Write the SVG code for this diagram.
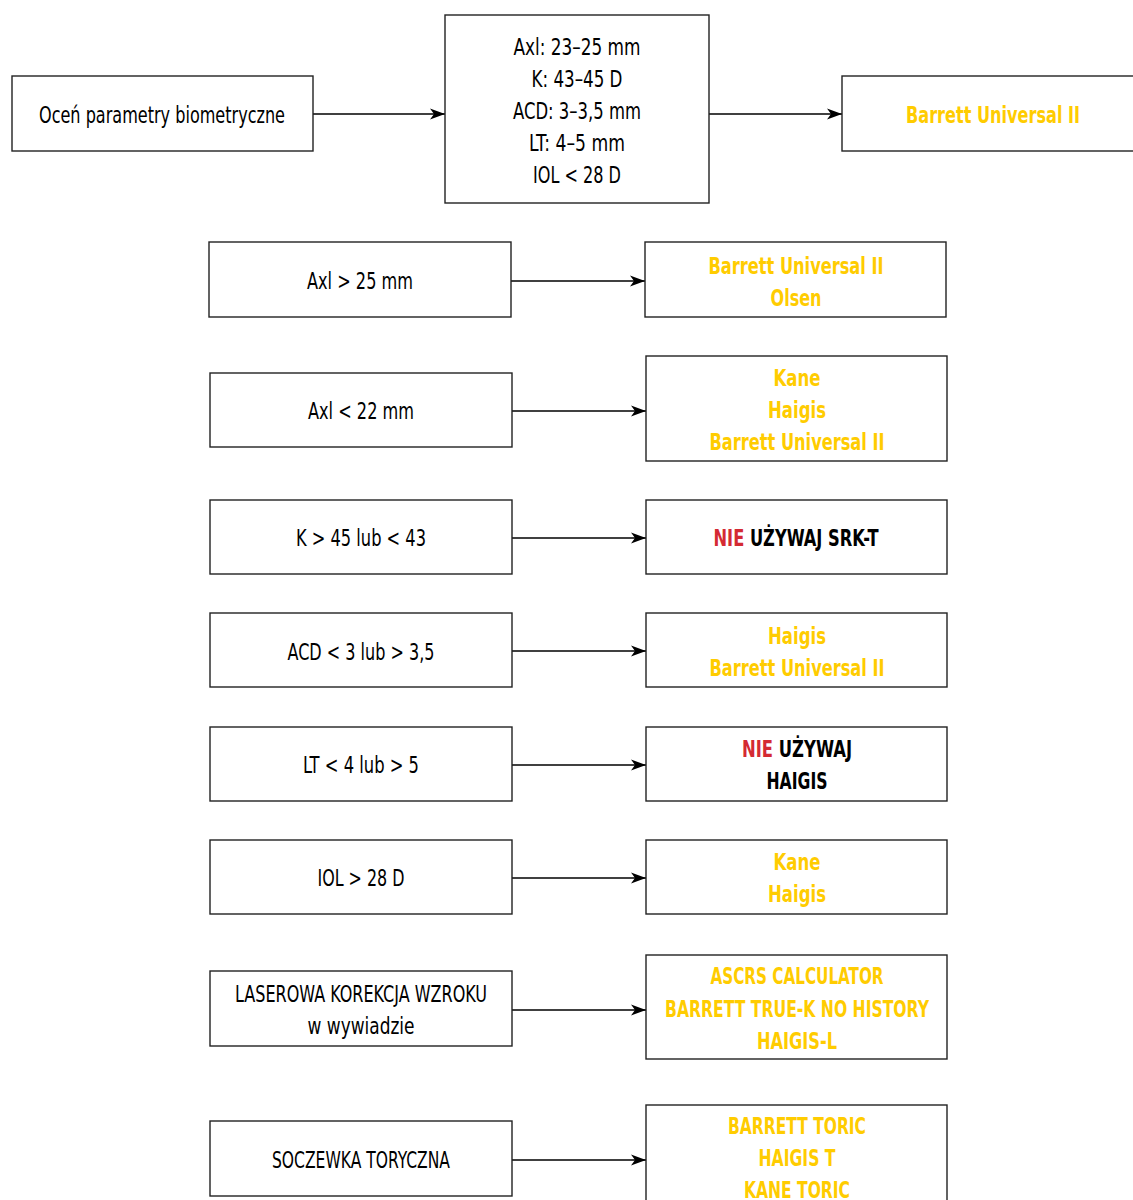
<svg xmlns="http://www.w3.org/2000/svg" width="1133" height="1200" viewBox="0 0 1133 1200">
<style>
.box{fill:#fff;stroke:#222;stroke-width:1.4}
.t{font-family:"Liberation Sans Narrow","DejaVu Sans Condensed","Liberation Sans",sans-serif;font-size:23px;fill:#000;text-anchor:middle}
.b{font-weight:bold}
.y{fill:#FFCC00}
.r{fill:#D42A33}
.s{text-anchor:start}
.c{stroke:#000;stroke-width:1.4;fill:none;marker-end:url(#ar)}
</style>
<defs>
<marker id="ar" markerWidth="16" markerHeight="12" refX="15" refY="6" orient="auto" markerUnits="userSpaceOnUse">
<path d="M0,0.5 L15,6 L0,11.5 L4,6 Z" fill="#000"/>
</marker>
</defs>
<rect width="1133" height="1200" fill="#fff"/>
<g id="connectors">
<line class="c" x1="313" y1="114" x2="445" y2="114"/>
<line class="c" x1="709" y1="114" x2="842" y2="114"/>
<line class="c" x1="511" y1="281" x2="645" y2="281"/>
<line class="c" x1="512" y1="411" x2="646" y2="411"/>
<line class="c" x1="512" y1="538" x2="646" y2="538"/>
<line class="c" x1="512" y1="651" x2="646" y2="651"/>
<line class="c" x1="512" y1="765" x2="646" y2="765"/>
<line class="c" x1="512" y1="878" x2="646" y2="878"/>
<line class="c" x1="512" y1="1010" x2="646" y2="1010"/>
<line class="c" x1="512" y1="1160" x2="646" y2="1160"/>
</g>
<g id="start">
<rect class="box" x="12" y="76" width="301" height="75"/>
<text class="t" x="162" y="123" textLength="246" lengthAdjust="spacingAndGlyphs">Oceń parametry biometryczne</text>
</g>
<g id="normal">
<rect class="box" x="445" y="15" width="264" height="188"/>
<text class="t" x="577" y="55" textLength="127" lengthAdjust="spacingAndGlyphs">Axl: 23–25 mm</text>
<text class="t" x="577" y="87" textLength="91" lengthAdjust="spacingAndGlyphs">K: 43–45 D</text>
<text class="t" x="577" y="119" textLength="128" lengthAdjust="spacingAndGlyphs">ACD: 3–3,5 mm</text>
<text class="t" x="577" y="151" textLength="96" lengthAdjust="spacingAndGlyphs">LT: 4–5 mm</text>
<text class="t" x="577" y="183" textLength="88" lengthAdjust="spacingAndGlyphs">IOL &lt; 28 D</text>
</g>
<g id="normal-result">
<rect class="box" x="842" y="76" width="300" height="75"/>
<text class="t b y" x="993" y="123" textLength="174" lengthAdjust="spacingAndGlyphs">Barrett Universal II</text>
</g>
<g id="axl-long">
<rect class="box" x="209" y="242" width="302" height="75"/>
<text class="t" x="360" y="289" textLength="106" lengthAdjust="spacingAndGlyphs">Axl &gt; 25 mm</text>
</g>
<g id="axl-long-result">
<rect class="box" x="645" y="242" width="301" height="75"/>
<text class="t b y" x="796" y="274" textLength="175" lengthAdjust="spacingAndGlyphs">Barrett Universal II</text>
<text class="t b y" x="796" y="306" textLength="51" lengthAdjust="spacingAndGlyphs">Olsen</text>
</g>
<g id="axl-short">
<rect class="box" x="210" y="373" width="302" height="74"/>
<text class="t" x="361" y="419" textLength="106" lengthAdjust="spacingAndGlyphs">Axl &lt; 22 mm</text>
</g>
<g id="axl-short-result">
<rect class="box" x="646" y="356" width="301" height="105"/>
<text class="t b y" x="797" y="386" textLength="47" lengthAdjust="spacingAndGlyphs">Kane</text>
<text class="t b y" x="797" y="418" textLength="58" lengthAdjust="spacingAndGlyphs">Haigis</text>
<text class="t b y" x="797" y="450" textLength="175" lengthAdjust="spacingAndGlyphs">Barrett Universal II</text>
</g>
<g id="k">
<rect class="box" x="210" y="500" width="302" height="74"/>
<text class="t" x="361" y="546" textLength="130" lengthAdjust="spacingAndGlyphs">K &gt; 45 lub &lt; 43</text>
</g>
<g id="k-result">
<rect class="box" x="646" y="500" width="301" height="74"/>
<text class="t b" x="796" y="546" textLength="165" lengthAdjust="spacingAndGlyphs"><tspan class="r">NIE</tspan> UŻYWAJ SRK-T</text>
</g>
<g id="acd">
<rect class="box" x="210" y="613" width="302" height="74"/>
<text class="t" x="361" y="660" textLength="147" lengthAdjust="spacingAndGlyphs">ACD &lt; 3 lub &gt; 3,5</text>
</g>
<g id="acd-result">
<rect class="box" x="646" y="613" width="301" height="74"/>
<text class="t b y" x="797" y="644" textLength="58" lengthAdjust="spacingAndGlyphs">Haigis</text>
<text class="t b y" x="797" y="676" textLength="175" lengthAdjust="spacingAndGlyphs">Barrett Universal II</text>
</g>
<g id="lt">
<rect class="box" x="210" y="727" width="302" height="74"/>
<text class="t" x="361" y="773" textLength="116" lengthAdjust="spacingAndGlyphs">LT &lt; 4 lub &gt; 5</text>
</g>
<g id="lt-result">
<rect class="box" x="646" y="727" width="301" height="74"/>
<text class="t b" x="797" y="757" textLength="110" lengthAdjust="spacingAndGlyphs"><tspan class="r">NIE</tspan> UŻYWAJ</text>
<text class="t b" x="797" y="789" textLength="61" lengthAdjust="spacingAndGlyphs">HAIGIS</text>
</g>
<g id="iol">
<rect class="box" x="210" y="840" width="302" height="74"/>
<text class="t" x="361" y="886" textLength="87" lengthAdjust="spacingAndGlyphs">IOL &gt; 28 D</text>
</g>
<g id="iol-result">
<rect class="box" x="646" y="840" width="301" height="74"/>
<text class="t b y" x="797" y="870" textLength="47" lengthAdjust="spacingAndGlyphs">Kane</text>
<text class="t b y" x="797" y="902" textLength="58" lengthAdjust="spacingAndGlyphs">Haigis</text>
</g>
<g id="laser">
<rect class="box" x="210" y="971" width="302" height="75"/>
<text class="t" x="361" y="1002" textLength="252" lengthAdjust="spacingAndGlyphs">LASEROWA KOREKCJA WZROKU</text>
<text class="t" x="361" y="1034" textLength="107" lengthAdjust="spacingAndGlyphs">w wywiadzie</text>
</g>
<g id="laser-result">
<rect class="box" x="646" y="955" width="301" height="104"/>
<text class="t b y" x="797" y="984" textLength="173" lengthAdjust="spacingAndGlyphs">ASCRS CALCULATOR</text>
<text class="t b y" x="797" y="1017" textLength="264" lengthAdjust="spacingAndGlyphs">BARRETT TRUE-K NO HISTORY</text>
<text class="t b y" x="797" y="1049" textLength="80" lengthAdjust="spacingAndGlyphs">HAIGIS-L</text>
</g>
<g id="toric">
<rect class="box" x="210" y="1121" width="302" height="75"/>
<text class="t" x="361" y="1168" textLength="178" lengthAdjust="spacingAndGlyphs">SOCZEWKA TORYCZNA</text>
</g>
<g id="toric-result">
<rect class="box" x="646" y="1105" width="301" height="110"/>
<text class="t b y" x="797" y="1134" textLength="138" lengthAdjust="spacingAndGlyphs">BARRETT TORIC</text>
<text class="t b y" x="797" y="1166" textLength="77" lengthAdjust="spacingAndGlyphs">HAIGIS T</text>
<text class="t b y" x="797" y="1198" textLength="106" lengthAdjust="spacingAndGlyphs">KANE TORIC</text>
</g>
</svg>
